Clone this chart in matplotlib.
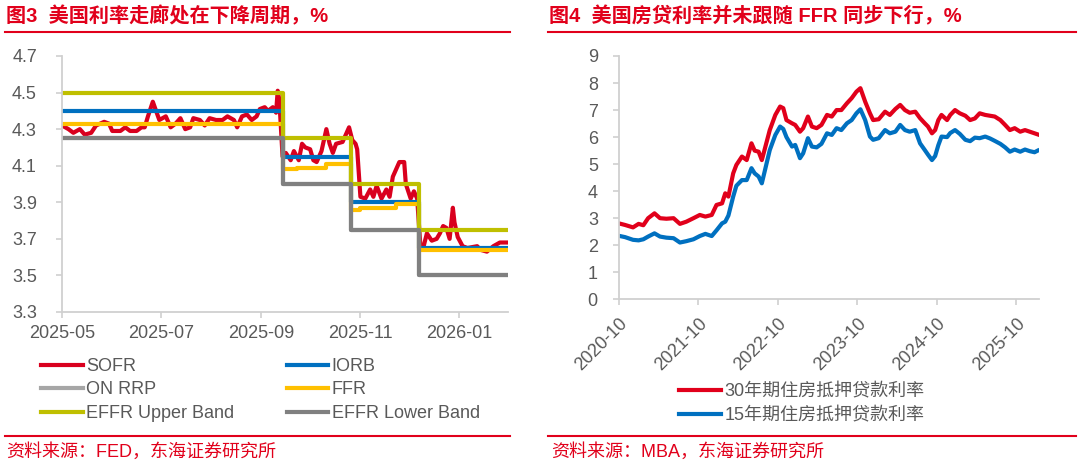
import numpy as np
import pandas as pd
import matplotlib
matplotlib.use("Agg")
from matplotlib import pyplot as plt
import matplotlib.dates as mdates
from matplotlib.lines import Line2D

plt.rcParams['font.family'] = ['Liberation Sans', 'Noto Sans CJK SC', 'DejaVu Sans']

## ---- 图3 数据：美国利率走廊 ----
sofr_dates = ['2025-05-01', '2025-05-05', '2025-05-08', '2025-05-12', '2025-05-15', '2025-05-19',
              '2025-05-22', '2025-05-27', '2025-05-30', '2025-06-01', '2025-06-06', '2025-06-09',
              '2025-06-12', '2025-06-16', '2025-06-19', '2025-06-21', '2025-06-23', '2025-06-26',
              '2025-06-28', '2025-06-30', '2025-07-04', '2025-07-07', '2025-07-10', '2025-07-13',
              '2025-07-16', '2025-07-19', '2025-07-21', '2025-07-25', '2025-07-28', '2025-07-31',
              '2025-08-04', '2025-08-08', '2025-08-11', '2025-08-15', '2025-08-17', '2025-08-20',
              '2025-08-23', '2025-08-26', '2025-08-29', '2025-08-31', '2025-09-03', '2025-09-05',
              '2025-09-08', '2025-09-10', '2025-09-11', '2025-09-12', '2025-09-14', '2025-09-16',
              '2025-09-19', '2025-09-21', '2025-09-24', '2025-09-26', '2025-09-28', '2025-10-01',
              '2025-10-03', '2025-10-05', '2025-10-08', '2025-10-11', '2025-10-13', '2025-10-15',
              '2025-10-17', '2025-10-21', '2025-10-23', '2025-10-25', '2025-10-27', '2025-10-29',
              '2025-10-30', '2025-11-01', '2025-11-04', '2025-11-07', '2025-11-09', '2025-11-11',
              '2025-11-14', '2025-11-17', '2025-11-19', '2025-11-21', '2025-11-23', '2025-11-25',
              '2025-11-28', '2025-11-29', '2025-12-02', '2025-12-04', '2025-12-06', '2025-12-08',
              '2025-12-10', '2025-12-12', '2025-12-15', '2025-12-18', '2025-12-20', '2025-12-22',
              '2025-12-24', '2025-12-26', '2025-12-28', '2025-12-29', '2025-12-31', '2026-01-03',
              '2026-01-06', '2026-01-12', '2026-01-14', '2026-01-18', '2026-01-22', '2026-01-26',
              '2026-01-31']
sofr = [4.32, 4.30, 4.28, 4.30, 4.27, 4.28,
        4.32, 4.34, 4.33, 4.29, 4.29, 4.31,
        4.29, 4.29, 4.31, 4.31, 4.37, 4.45,
        4.40, 4.35, 4.37, 4.31, 4.33, 4.36,
        4.30, 4.31, 4.36, 4.35, 4.32, 4.36,
        4.35, 4.35, 4.37, 4.35, 4.31, 4.37,
        4.38, 4.35, 4.37, 4.41, 4.42, 4.40,
        4.42, 4.39, 4.51, 4.46, 4.15, 4.17,
        4.13, 4.18, 4.13, 4.22, 4.20, 4.19,
        4.13, 4.12, 4.18, 4.30, 4.22, 4.17,
        4.22, 4.23, 4.27, 4.31, 4.24, 4.22,
        4.19, 3.93, 3.92, 3.97, 3.93, 3.99,
        3.92, 3.97, 3.93, 4.04, 4.08, 4.12,
        4.12, 4.00, 3.92, 3.96, 3.92, 3.66,
        3.66, 3.73, 3.69, 3.70, 3.73, 3.77,
        3.76, 3.70, 3.87, 3.79, 3.71, 3.66,
        3.65, 3.66, 3.64, 3.63, 3.66, 3.68,
        3.68]

band_dates = ['2025-05-01', '2025-09-14', '2025-10-26', '2025-12-07', '2026-01-31']
iorb = [4.40, 4.15, 3.90, 3.65, 3.65]
on_rrp = [4.25, 4.00, 3.75, 3.50, 3.50]
upper_band = [4.50, 4.25, 4.00, 3.75, 3.75]
lower_band = [4.25, 4.00, 3.75, 3.50, 3.50]

ffr_dates = ['2025-05-01', '2025-09-14', '2025-09-23', '2025-10-11', '2025-10-26',
             '2025-11-01', '2025-11-23', '2025-12-07', '2026-01-31']
ffr = [4.33, 4.08, 4.09, 4.11, 3.86, 3.87, 3.89, 3.64, 3.64]

left_ticks = ['2025-05-01', '2025-07-01', '2025-09-01', '2025-11-01', '2026-01-01']

## ---- 图4 数据：MBA 房贷利率（横轴为小数年份） ----
mba_year = [2020.75, 2020.83, 2020.93, 2021.00, 2021.06, 2021.12, 2021.20, 2021.27, 2021.35,
            2021.44, 2021.52, 2021.60, 2021.69, 2021.77, 2021.84, 2021.92, 2021.98, 2022.05,
            2022.09, 2022.13, 2022.19, 2022.23, 2022.30, 2022.36, 2022.42, 2022.46, 2022.51,
            2022.55, 2022.59, 2022.65, 2022.72, 2022.78, 2022.82, 2022.86, 2022.93, 2022.97,
            2023.03, 2023.07, 2023.13, 2023.18, 2023.24, 2023.30, 2023.37, 2023.43, 2023.49,
            2023.55, 2023.62, 2023.68, 2023.74, 2023.79, 2023.85, 2023.91, 2023.95, 2024.02,
            2024.10, 2024.16, 2024.23, 2024.29, 2024.35, 2024.41, 2024.48, 2024.54, 2024.60,
            2024.64, 2024.69, 2024.73, 2024.77, 2024.81, 2024.88, 2024.92, 2024.98, 2025.04,
            2025.11, 2025.17, 2025.23, 2025.29, 2025.36, 2025.42, 2025.48, 2025.55, 2025.61,
            2025.67, 2025.73, 2025.80, 2025.86, 2025.92, 2025.98, 2026.02]
rate_30y = [2.81, 2.75, 2.66, 2.79, 2.74, 3.00, 3.18, 3.00, 2.98,
            3.00, 2.79, 2.87, 3.00, 3.12, 3.06, 3.12, 3.49, 3.55,
            3.92, 3.80, 4.66, 4.97, 5.28, 5.15, 5.77, 5.50, 5.46,
            5.15, 5.59, 6.26, 6.82, 7.13, 7.07, 6.63, 6.51, 6.45,
            6.20, 6.33, 6.76, 6.39, 6.33, 6.45, 6.82, 6.76, 7.00,
            7.00, 7.25, 7.44, 7.68, 7.81, 7.31, 6.88, 6.63, 6.66,
            6.94, 6.82, 7.04, 7.19, 7.00, 6.90, 6.94, 6.70, 6.51,
            6.39, 6.14, 6.26, 6.63, 6.82, 6.63, 6.82, 7.00, 6.88,
            6.79, 6.63, 6.69, 6.88, 6.82, 6.79, 6.76, 6.63, 6.45,
            6.26, 6.33, 6.20, 6.26, 6.20, 6.14, 6.10]
rate_15y = [2.35, 2.30, 2.20, 2.18, 2.22, 2.32, 2.44, 2.32, 2.28,
            2.26, 2.10, 2.15, 2.22, 2.34, 2.42, 2.34, 2.55, 2.81,
            2.87, 3.10, 3.80, 4.20, 4.41, 4.41, 4.85, 4.66, 4.54,
            4.29, 4.78, 5.52, 6.08, 6.39, 6.30, 6.00, 5.65, 5.71,
            5.22, 5.40, 5.96, 5.65, 5.62, 5.75, 6.14, 6.08, 6.33,
            6.26, 6.51, 6.63, 6.88, 7.03, 6.63, 6.02, 5.90, 5.96,
            6.26, 6.14, 6.20, 6.45, 6.26, 6.20, 6.26, 5.77, 5.52,
            5.35, 5.15, 5.30, 5.70, 6.02, 6.00, 6.15, 6.26, 6.12,
            5.90, 5.85, 5.98, 5.96, 6.02, 5.95, 5.86, 5.75, 5.62,
            5.46, 5.54, 5.46, 5.54, 5.48, 5.44, 5.50]
right_ticks = [2020.75, 2021.75, 2022.75, 2023.75, 2024.75, 2025.75]
right_labels = ['2020-10', '2021-10', '2022-10', '2023-10', '2024-10', '2025-10']

RED = '#E1001B'
GREY_TXT = '#595959'
AXIS_C = '#D0D0D0'

fig = plt.figure(figsize=(10.8, 4.72), dpi=100)

def estilo_ejes(ax, ypad):
    for s in ['top', 'right']:
        ax.spines[s].set_visible(False)
    for s in ['left', 'bottom']:
        ax.spines[s].set_color(AXIS_C)
        ax.spines[s].set_linewidth(1.3)
    ax.tick_params(axis='both', colors=AXIS_C, labelcolor=GREY_TXT, labelsize=13,
                   length=4, width=1.2)
    ax.tick_params(axis='y', pad=ypad)

## ---- 左图 ----
ax1 = fig.add_axes([62 / 1080, 1 - 312 / 472, (508 - 62) / 1080, (312 - 56) / 472])
d_sofr = pd.to_datetime(sofr_dates)
d_band = pd.to_datetime(band_dates)
d_ffr = pd.to_datetime(ffr_dates)
lw = 3.0
ax1.plot(d_sofr, sofr, color='#D9001E', lw=lw, label='SOFR', solid_joinstyle='round')
ax1.step(d_band, iorb, where='post', color='#0070C0', lw=lw, label='IORB')
ax1.step(d_band, on_rrp, where='post', color='#A6A6A6', lw=lw, label='ON RRP')
ax1.step(d_ffr, ffr, where='post', color='#FFC000', lw=lw, label='FFR')
ax1.step(d_band, upper_band, where='post', color='#BFBF00', lw=lw, label='EFFR Upper Band')
ax1.step(d_band, lower_band, where='post', color='#808080', lw=lw, label='EFFR Lower Band')
ax1.set_xlim(pd.Timestamp('2025-05-01'), pd.Timestamp('2026-01-31'))
ax1.set_ylim(3.3, 4.7)
ax1.set_yticks(np.arange(3.3, 4.71, 0.2))
ax1.yaxis.set_major_formatter(matplotlib.ticker.FormatStrFormatter('%.1f'))
ax1.set_xticks(pd.to_datetime(left_ticks))
ax1.xaxis.set_major_formatter(mdates.DateFormatter('%Y-%m'))
estilo_ejes(ax1, 14)
ax1.tick_params(axis='x', pad=5)

# leyenda por filas: reordenar para que ncol=2 se lea de izquierda a derecha
h1, l1 = ax1.get_legend_handles_labels()
orden = [0, 2, 4, 1, 3, 5]
fig.legend([h1[i] for i in orden], [l1[i] for i in orden], loc='upper left',
           bbox_to_anchor=(41 / 1080, 1 - 358 / 472), ncol=2,
           frameon=False, fontsize=13, labelcolor=GREY_TXT, handlelength=2.3,
           handletextpad=0.2, columnspacing=2.9, labelspacing=0.36, borderpad=0,
           borderaxespad=0)

## ---- 右图 ----
ax2 = fig.add_axes([618.7 / 1080, 1 - 299.3 / 472, (1039.3 - 618.7) / 1080, (299.3 - 56) / 472])
ax2.plot(mba_year, rate_30y, color=RED, lw=3.0, label='30年期住房抵押贷款利率',
         solid_joinstyle='round')
ax2.plot(mba_year, rate_15y, color='#0070C0', lw=3.0, label='15年期住房抵押贷款利率',
         solid_joinstyle='round')
ax2.set_xlim(2020.75, 2026.04)
ax2.set_ylim(0, 9)
ax2.set_yticks(range(0, 10))
ax2.set_xticks(right_ticks)
ax2.set_xticklabels(right_labels, rotation=45, ha='right', va='top', rotation_mode='anchor')
estilo_ejes(ax2, 11)
ax2.tick_params(axis='x', pad=7)

h2, l2 = ax2.get_legend_handles_labels()
fig.legend(h2, l2, loc='upper left', bbox_to_anchor=(679 / 1080, 1 - 383 / 472), ncol=1,
           frameon=False, fontsize=13, labelcolor=GREY_TXT, handlelength=2.3,
           handletextpad=0.2, labelspacing=0.4, borderpad=0, borderaxespad=0)

## ---- 标题、红线、来源 ----
fig.text(6 / 1080, 1 - 16 / 472, '图3  美国利率走廊处在下降周期，%', color=RED,
         fontsize=14.5, fontweight='bold', va='center', ha='left')
fig.text(549 / 1080, 1 - 16 / 472, '图4  美国房贷利率并未跟随 FFR 同步下行，%', color=RED,
         fontsize=14.5, fontweight='bold', va='center', ha='left')
for x0, x1 in [(5, 510), (548, 1076)]:
    fig.add_artist(Line2D([x0 / 1080, x1 / 1080], [1 - 32 / 472, 1 - 32 / 472],
                          color=RED, lw=1.5))
    fig.add_artist(Line2D([x0 / 1080, x1 / 1080], [1 - 436 / 472, 1 - 436 / 472],
                          color=RED, lw=1.5))
fig.text(6 / 1080, 1 - 452 / 472, '资料来源：FED，东海证券研究所', color=RED,
         fontsize=13, va='center', ha='left')
fig.text(551 / 1080, 1 - 452 / 472, '资料来源：MBA，东海证券研究所', color=RED,
         fontsize=13, va='center', ha='left')

fig.savefig('out.png', dpi=100)
